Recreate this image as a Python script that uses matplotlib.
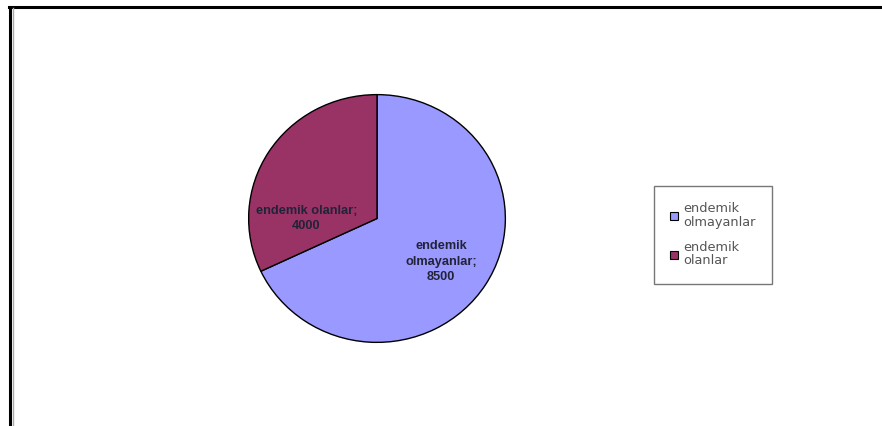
import matplotlib
matplotlib.use("Agg")
import matplotlib.pyplot as plt
from matplotlib.lines import Line2D
from matplotlib.patches import Patch

plt.rcParams['font.family'] = ['Liberation Sans', 'DejaVu Sans']

# data
labels = ['endemik olmayanlar', 'endemik olanlar']
values = [8500, 4000]
colors = ['#9999FF', '#993366']
slice_text = ['endemik\nolmayanlar;\n8500', 'endemik olanlar;\n4000']
legend_text = ['endemik\nolmayanlar', 'endemik\nolanlar']

W, H = 882, 426
fig = plt.figure(figsize=(W / 100, H / 100), dpi=100)

# frame lines (top and left border)
fig.add_artist(Line2D([9 / W, 1], [1 - 7 / H, 1 - 7 / H], color='black', lw=2.2))
fig.add_artist(Line2D([10 / W, 10 / W], [0, 1 - 7 / H], color='black', lw=2.2))
fig.add_artist(Line2D([12.5 / W, 12.5 / W], [0, 1 - 8 / H], color='#aaaaaa', lw=1))

# pie axes (pixel box 248..506 x 94..343)
ax = fig.add_axes([248 / W, 1 - 343 / H, 258 / W, 249 / H])
ax.pie(values, colors=colors, startangle=90, counterclock=False,
       wedgeprops=dict(edgecolor='black', linewidth=1.0))
ax.set_aspect('auto')
ax.set_xlim(-1.005, 1.005)
ax.set_ylim(-1.005, 1.005)
ax.axis('off')

tp = dict(ha='center', va='center', fontsize=9.2, fontweight='bold',
          color='#222238', linespacing=1.4)
ax.text(0.50, -0.35, slice_text[0], **tp)
ax.text(-0.55, 0.0, slice_text[1], **tp)

# legend
handles = [Patch(facecolor=c, edgecolor='black', linewidth=0.8) for c in colors]
leg = fig.legend(handles, legend_text, loc='upper left',
                 bbox_to_anchor=(654 / W, 1 - 186 / H),
                 frameon=True, fancybox=False,
                 prop=dict(family='DejaVu Sans', size=9.3),
                 handlelength=0.6, handleheight=0.6, handletextpad=0.4,
                 labelspacing=0.95, borderpad=1.25, borderaxespad=0)
leg.get_frame().set_edgecolor('#555555')
leg.get_frame().set_linewidth(1.0)
for t in leg.get_texts():
    t.set_color('#555555')
    t.set_linespacing(1.05)

fig.savefig('out.png', dpi=100)
